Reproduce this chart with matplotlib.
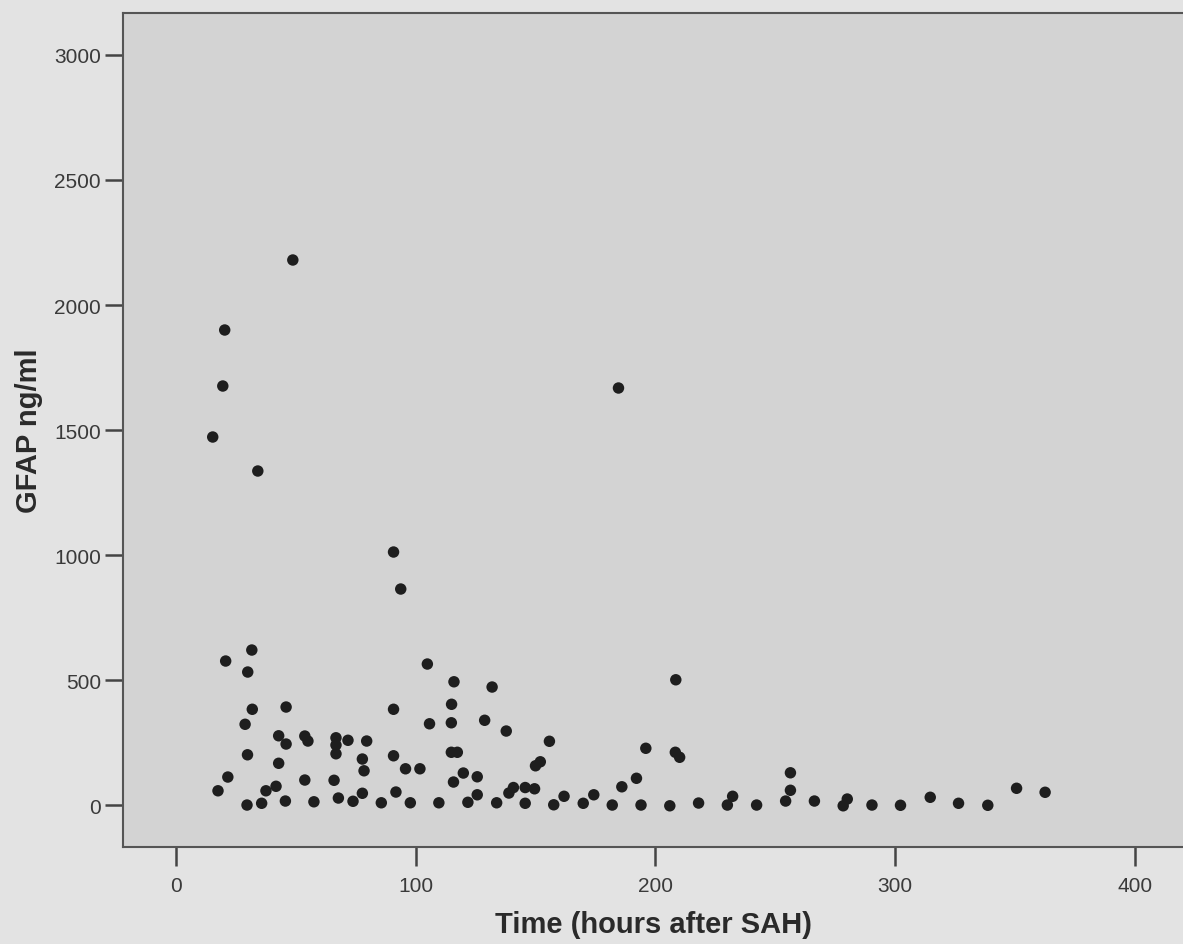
import matplotlib
matplotlib.use('Agg')
import matplotlib.pyplot as plt

# time after SAH (hours) and GFAP (ng/ml)
hours = [48.8, 20.4, 19.6, 15.4, 34.2, 184.6, 90.8, 93.8,
         20.8, 31.7, 30.0, 104.9, 116.0, 131.9, 208.5,
         31.9, 46.0, 28.9, 42.9, 46.0, 53.8, 55.1, 66.8, 66.8, 66.8, 71.8, 79.6,
         29.9, 42.9, 77.8, 78.5, 21.7, 17.6, 41.8, 37.6, 53.8, 66.0, 77.8,
         29.7, 35.8, 45.7, 57.6, 67.8, 73.9,
         90.8, 115.0, 105.8, 114.9, 128.8, 137.8, 155.8, 90.8, 114.9, 117.4,
         95.8, 101.8, 119.9, 125.7, 115.8, 150.0, 152.0, 91.8, 125.7, 138.9,
         140.8, 145.7, 149.6, 85.7, 97.8, 109.7, 121.8, 133.8, 145.7, 157.6,
         161.9, 169.9, 174.3,
         196.0, 208.3, 210.1, 192.1, 186.0, 182.0, 194.0, 206.0, 218.0, 230.0,
         232.2, 242.2, 254.3, 256.3, 256.3, 266.3, 278.3, 280.0,
         290.3, 302.2, 314.6, 326.4, 338.6, 350.6, 362.5]
gfap = [2180, 1900, 1676, 1472, 1336, 1668, 1012, 864,
        576, 620, 532, 564, 493, 472, 501,
        383, 392, 323, 277, 244, 276, 256, 269, 240, 205, 259, 256,
        201, 167, 184, 137, 112, 57, 75, 57, 100, 99, 47,
        0, 7, 16, 13, 28, 15,
        383, 403, 325, 329, 339, 296, 255, 197, 211, 211,
        145, 145, 128, 113, 92, 157, 173, 52, 41, 48,
        70, 70, 65, 9, 9, 9, 11, 9, 7, 1,
        35, 7, 41,
        227, 211, 191, 107, 73, 0, 0, -3, 8, 0,
        35, 0, 16, 59, 129, 16, -3, 24,
        0, -1, 31, 7, -1, 67, 51]

xticks = [0, 100, 200, 300, 400]
yticks = [0, 500, 1000, 1500, 2000, 2500, 3000]

fig = plt.figure(figsize=(11.83, 9.45), dpi=100, facecolor='#e3e3e3')
ax = fig.add_axes([0.104, 0.1026, 0.896, 0.8826])
ax.set_facecolor('#d3d3d3')

ax.scatter(hours, gfap, s=68, color='#1e1e1e', edgecolors='none', zorder=3)

ax.set_xlim(-22, 420)
ax.set_ylim(-168, 3168)
ax.set_xticks(xticks)
ax.set_yticks(yticks)

for side in ['left', 'top', 'bottom']:
    ax.spines[side].set_color('#555555')
    ax.spines[side].set_linewidth(1.5)
ax.spines['right'].set_visible(False)

ax.tick_params(direction='out', length=13, width=1.8, color='#444444',
               labelsize=15, labelcolor='#3a3a3a', pad=3)
ax.tick_params(axis='x', length=14, pad=7)
for lab in ax.get_xticklabels() + ax.get_yticklabels():
    lab.set_fontfamily('Liberation Sans')

ax.set_xlabel('Time (hours after SAH)', fontsize=21, fontweight='bold',
              family='Liberation Sans', color='#2a2a2a', labelpad=11)
ax.set_ylabel('GFAP ng/ml', fontsize=21, fontweight='bold',
              family='Liberation Sans', color='#2a2a2a', labelpad=8)

fig.savefig('out.png', dpi=100, facecolor=fig.get_facecolor())
